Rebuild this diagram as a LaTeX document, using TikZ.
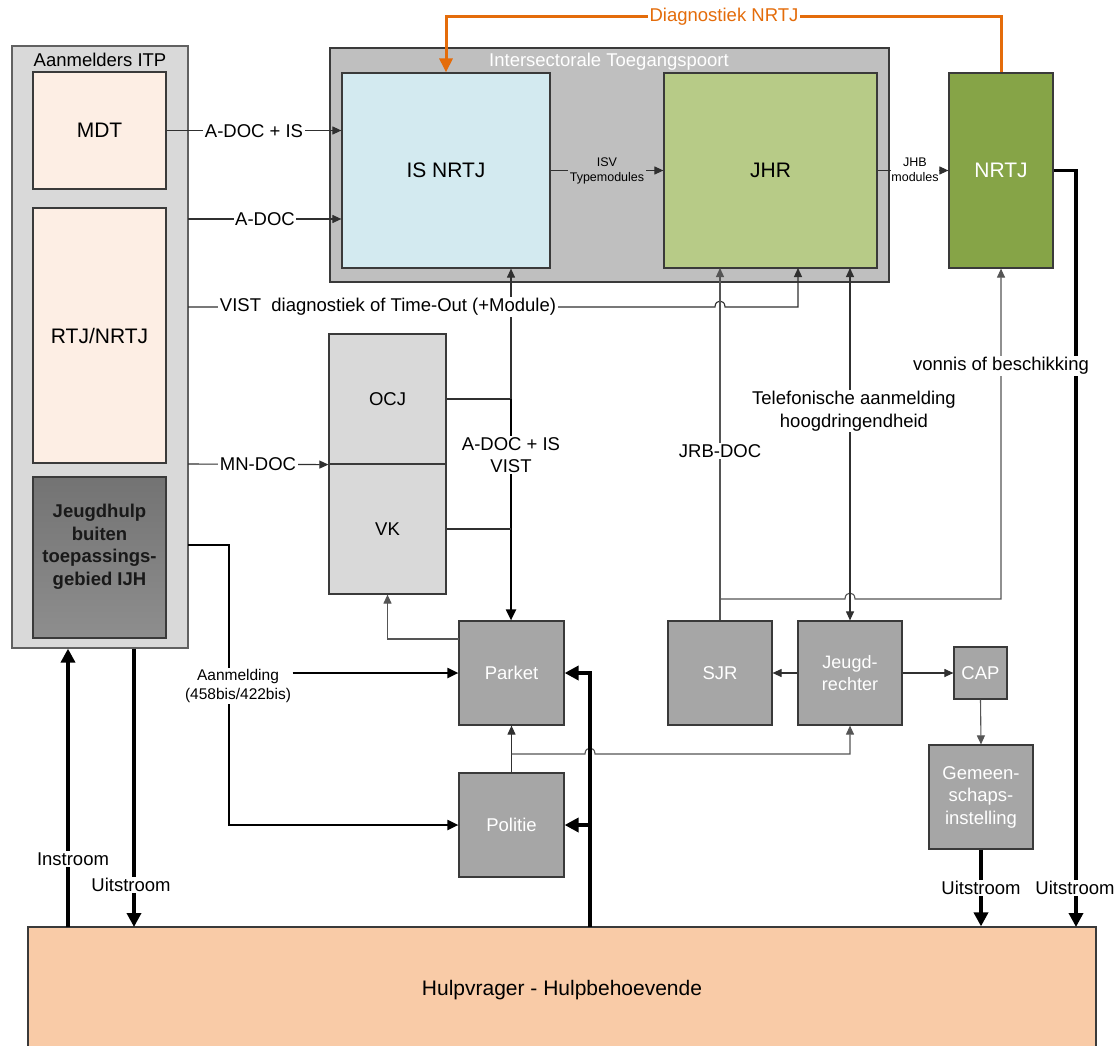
\documentclass[tikz,border=0pt]{standalone}
\usepackage{fontspec}
\setmainfont{Liberation Sans}
\usetikzlibrary{arrows.meta,calc}
\definecolor{cOuter}{HTML}{D9D9D9}
\definecolor{cPeach}{HTML}{FDEEE4}
\definecolor{cDarkT}{HTML}{737373}
\definecolor{cDarkB}{HTML}{8E8E8E}
\definecolor{cGate}{HTML}{BFBFBF}
\definecolor{cBlue}{HTML}{D3EAF0}
\definecolor{cJhr}{HTML}{B7CB87}
\definecolor{cNrtj}{HTML}{86A447}
\definecolor{cMid}{HTML}{A6A6A6}
\definecolor{cHulp}{HTML}{F9CBA7}
\definecolor{cOrange}{HTML}{E46C0A}
\definecolor{cEdge}{HTML}{3A3A3A}
\definecolor{cLine}{HTML}{303030}
\definecolor{cGrayLine}{HTML}{555555}
\newcommand\fsBig{\fontsize{21pt}{25pt}\selectfont}
\newcommand\fsMed{\fontsize{18.5pt}{22.5pt}\selectfont}
\newcommand\fsAan{\fontsize{15.5pt}{19pt}\selectfont}
\newcommand\fsSmall{\fontsize{12.5pt}{15.5pt}\selectfont}
\tikzset{
  box/.style={draw=cEdge, line width=1.2pt, inner sep=0pt, align=center, font=\fsMed},
  lbl/.style={fill=white, inner sep=1.5pt, align=center, font=\fsMed, text=black},
  thinarrow/.style={draw=cLine, line width=1.1pt, -{Triangle[length=9pt,width=8pt]}},
  thinline/.style={draw=cLine, line width=1.1pt},
  grayarrow/.style={draw=cGrayLine, line width=1.1pt, -{Triangle[length=9pt,width=8pt]}},
  midarrow/.style={draw=black, line width=2pt, -{Triangle[length=11pt,width=10pt]}},
  thickarrow/.style={draw=black, line width=3.5pt, -{Triangle[length=14pt,width=14pt]}},
  orangearrow/.style={draw=cOrange, line width=3pt, -{Triangle[length=14pt,width=13pt]}},
}
\begin{document}
\begin{tikzpicture}[x=1pt,y=-1pt]
\clip (0,0) rectangle (1119,1046);
\fill[white] (0,0) rectangle (1119,1046);

% ---- boxes ----
\node[box, draw=cEdge!80, fill=cOuter, minimum width=176pt, minimum height=602pt] (outer) at (100,347) {};
\node[font=\fsMed] (outerT) at (100,60) {Aanmelders ITP};
\node[box, fill=cPeach, minimum width=133pt, minimum height=117pt, font=\fsBig] (mdt) at (99.5,130.5) {MDT};
\node[box, fill=cPeach, minimum width=133pt, minimum height=255pt, font=\fsBig] (rtj) at (99.5,335.5) {RTJ/NRTJ};
\node[box, top color=cDarkT, bottom color=cDarkB, minimum width=133pt, minimum height=161pt] (jhb) at (99.5,557.5) {};
\node[align=center, font=\fsMed\bfseries, text=black!90] (jhbT) at (99.5,547) {Jeugdhulp\\buiten\\toepassings-\\gebied IJH};

\node[box, fill=cGate, minimum width=559pt, minimum height=234pt] (gate) at (609.5,165) {};
\node[font=\fsMed, text=white] (gateT) at (609,62) {Intersectorale Toegangspoort};
\node[box, fill=cBlue, minimum width=208pt, minimum height=195pt, font=\fsBig] (isn) at (446,170.5) {IS NRTJ};
\node[box, fill=cJhr, minimum width=213pt, minimum height=195pt, font=\fsBig] (jhr) at (770.5,170.5) {JHR};
\node[box, fill=cNrtj, minimum width=104pt, minimum height=195pt, font=\fsBig, text=white] (nrtj) at (1001,170.5) {NRTJ};

\node[box, fill=cOuter, minimum width=117pt, minimum height=130pt] (ocj) at (387.5,399) {OCJ};
\node[box, fill=cOuter, minimum width=117pt, minimum height=130pt] (vk) at (387.5,529) {VK};

\node[box, fill=cMid, minimum width=105pt, minimum height=104pt, text=white] (parket) at (511.5,673) {Parket};
\node[box, fill=cMid, minimum width=105pt, minimum height=104pt, text=white] (politie) at (511.5,825) {Politie};
\node[box, fill=cMid, minimum width=104pt, minimum height=104pt, text=white] (sjr) at (720,673) {SJR};
\node[box, fill=cMid, minimum width=104pt, minimum height=104pt, text=white, font=\fontsize{18pt}{21.5pt}\selectfont] (jr) at (850,673) {Jeugd-\\rechter};
\node[box, fill=cMid, minimum width=53pt, minimum height=52pt, text=white] (cap) at (980.5,673) {CAP};
\node[box, fill=cMid, minimum width=104pt, minimum height=104pt, text=white] (gem) at (981,797) {Gemeen-\\schaps-\\instelling};

\node[box, fill=cHulp, minimum width=1068pt, minimum height=126pt, font=\fontsize{21pt}{25pt}\selectfont] (hulp) at (562,990) {Hulpvrager - Hulpbehoevende};

% ---- coordinates ----
\coordinate (a2) at (188,219);
\coordinate (v1) at (188,307);
\coordinate (mn) at (188,464);
\coordinate (jh) at (188,545);
\coordinate (jhrJ) at (720,268);
\coordinate (jhrV) at (798,268);
\coordinate (jhrT) at (850,268);
\coordinate (j1) at (511,399);
\coordinate (sjrB) at (720,599);
\coordinate (pk) at (459,639);
\coordinate (pj) at (511.5,754);
\coordinate (ab) at (229,545);
\coordinate (ac) at (229,825);
\coordinate (tb) at (590,927);
\coordinate (tp) at (590,825);
\coordinate (instB) at (68,927);
\coordinate (uitB) at (134,927);
\coordinate (rB) at (1076,927);
\coordinate (o1) at (1001,17);

% ---- connectors ----
\draw[thinarrow] (mdt.east) -- (mdt.east -| isn.west);
\draw[thinarrow] (a2) -- (a2 -| isn.west);
\draw[thinarrow] (isn.east) -- (jhr.west);
\draw[thinarrow] (jhr.east) -- (nrtj.west);

\draw[thinarrow] (v1) -- (715,307) .. controls (715,299) and (725,299) .. (725,307) -| (jhrV);
\draw[grayarrow] (sjr.north) -- (jhrJ);
\draw[grayarrow] (sjrB) -- (845,599) .. controls (845,591) and (855,591) .. (855,599) -| (nrtj.south);
\draw[draw=cLine, line width=1.1pt, {Triangle[length=9pt,width=8pt]}-{Triangle[length=9pt,width=8pt]}] (jr.north) -- (jhrT);

\draw[thinline] (ocj.east) -- (j1);
\draw[thinarrow] (j1) -- (isn.south -| j1);
\draw[midarrow] (j1) -- (j1 |- parket.north);
\draw[thinline] (vk.east) -- (vk.east -| j1);

\draw[thinarrow] (mn) -- (ocj.south west);
\draw[grayarrow] (pk) -| (vk.south);

\draw[midarrow] (jh) -- (ab) -- (ac) -- (politie.west);

\draw[thinarrow] (politie.north) -- (parket.south);
\draw[grayarrow] (pj) -- (585,754) .. controls (585,746) and (595,746) .. (595,754) -| (jr.south);

\draw[thinarrow] (jr.west) -- (sjr.east);
\draw[thinarrow] (jr.east) -- (cap.west);
\draw[grayarrow] (cap.south) -- (gem.north);

\draw[thickarrow] (tb) |- (parket.east);
\draw[thickarrow] (tp) -- (politie.east);
\draw[thickarrow] (instB) -- (outer.south -| instB);
\draw[thickarrow] (outer.south -| uitB) -- (uitB);
\draw[thickarrow] (nrtj.east) -| (rB);
\draw[thickarrow] (gem.south) -- (gem.south |- hulp.north);

\draw[orangearrow] (nrtj.north) -- (o1) -| (isn.north);

% ---- labels ----
\node[lbl] (lA1) at (254,131) {A-DOC + IS};
\node[lbl] (lA2) at (265,219) {A-DOC};
\node[lbl] (lMN) at (258,464) {MN-DOC};
\node[lbl] (lV) at (388,307) {VIST\ \ diagnostiek of Time-Out (+Module)};
\node[lbl] (lAV) at (511,455) {A-DOC + IS\\VIST};
\node[lbl, fill=cGate, font=\fsSmall] (lISV) at (607,171) {ISV\\Typemodules};
\node[lbl, font=\fsSmall, inner sep=0.5pt] (lJHB) at (915,170) {JHB\\modules};
\node[lbl] (lJRB) at (720,451) {JRB-DOC};
\node[lbl] (lTel) at (854,411) {Telefonische aanmelding\\hoogdringendheid};
\node[lbl] (lVon) at (1001,366) {vonnis of beschikking};
\node[lbl, font=\fsAan] (lAan) at (238,686) {Aanmelding\\(458bis/422bis)};
\draw[midarrow] (lAan.east |- parket.west) -- (parket.west);
\node[lbl] (lIn) at (73,859) {Instroom};
\node[lbl] (lUit1) at (131,885) {Uitstroom};
\node[lbl] (lUit2) at (981,888) {Uitstroom};
\node[lbl] (lUit3) at (1075,888) {Uitstroom};
\node[lbl, text=cOrange] (lDiag) at (724,17) {Diagnostiek NRTJ};
\end{tikzpicture}
\end{document}
